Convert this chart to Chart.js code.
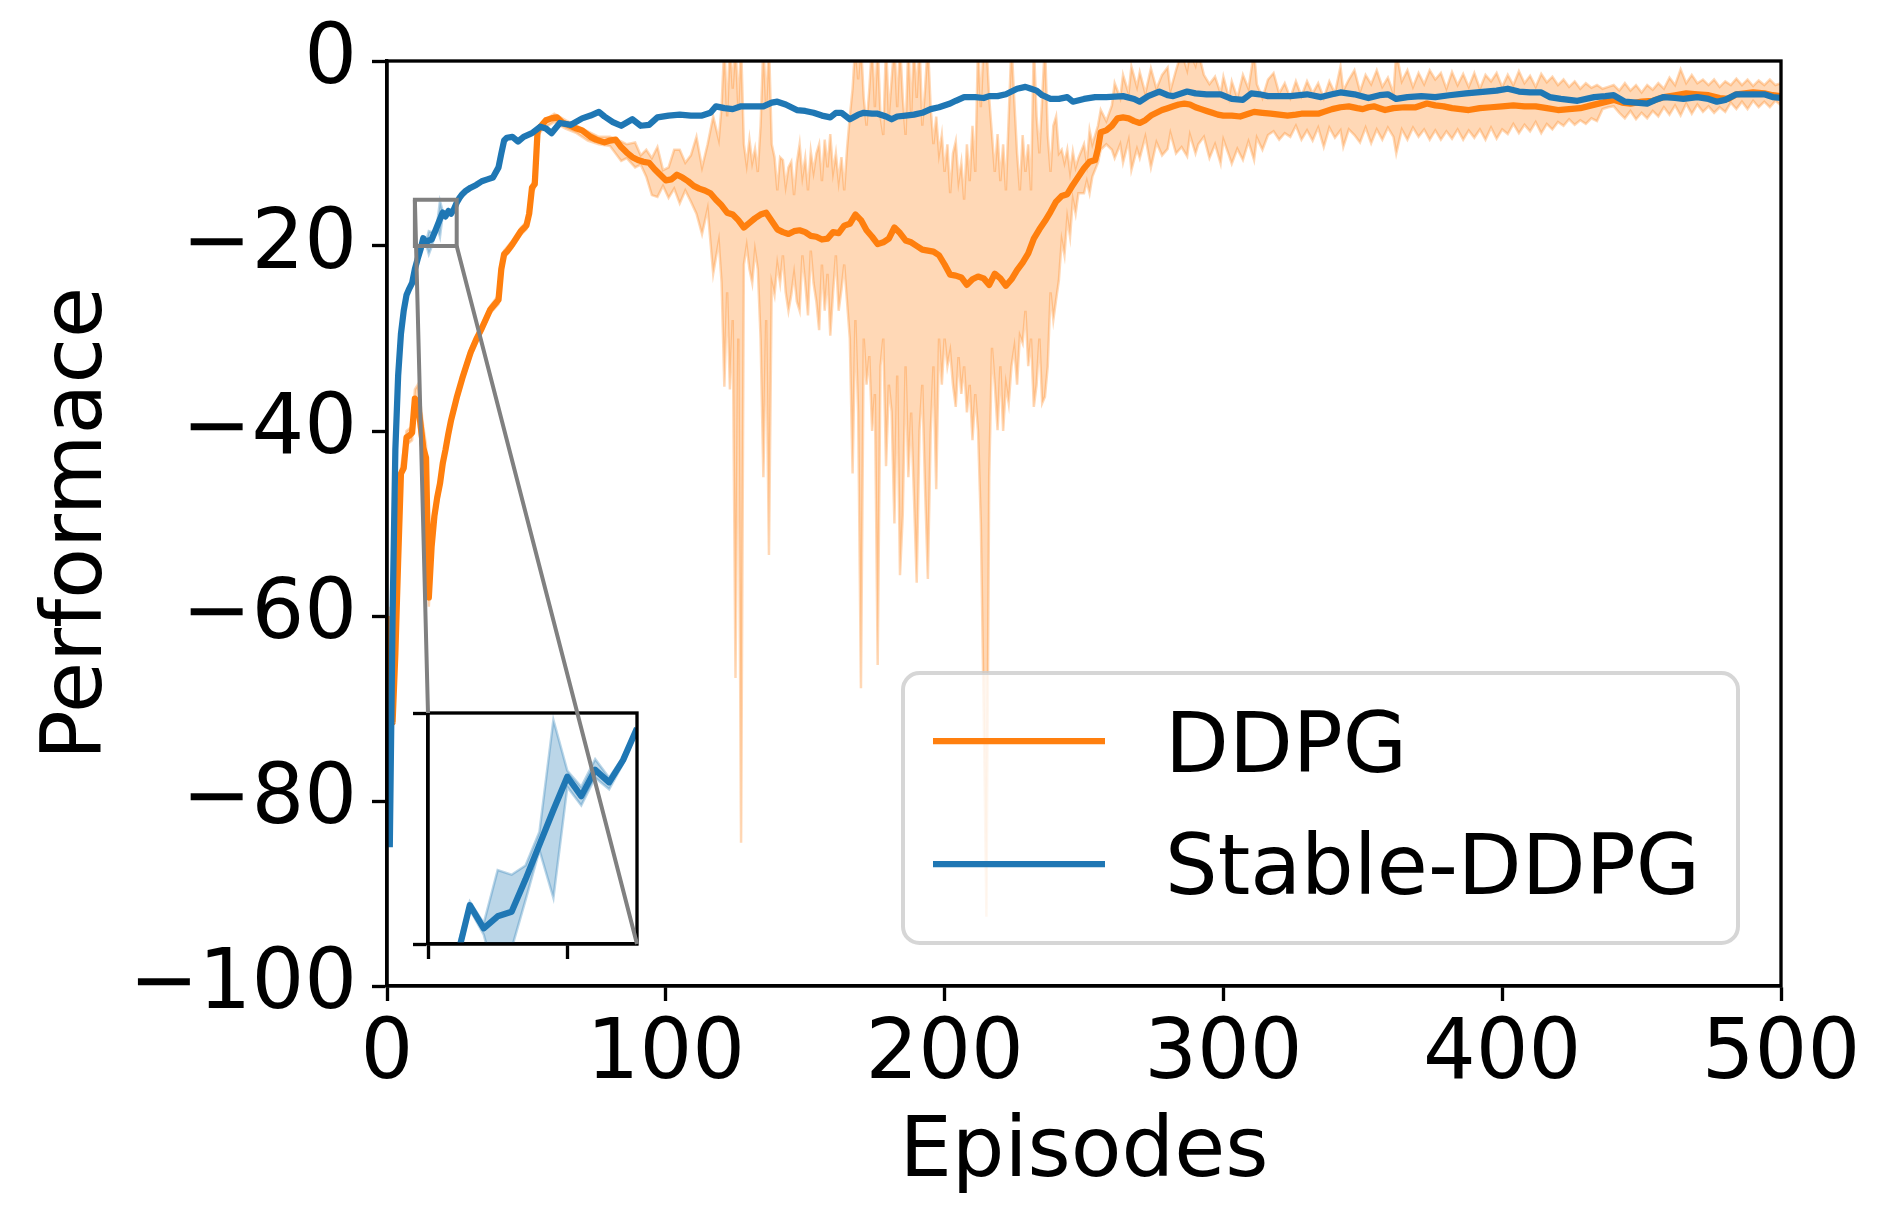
<!DOCTYPE html>
<html><head><meta charset="utf-8">
<script src="https://cdn.jsdelivr.net/npm/chart.js@4.4.1/dist/chart.umd.min.js"></script>
<style>
html,body{margin:0;padding:0;background:#fff;}
#wrap{position:relative;width:1890px;height:1223px;overflow:hidden;background:#fff;}
canvas{position:absolute;}
</style></head><body>
<div id="wrap">
<canvas id="main" width="1890" height="1223" style="left:0;top:0;width:1890px;height:1223px"></canvas>
<canvas id="inset" width="320" height="850" style="left:380px;top:150px;width:320px;height:850px"></canvas>
</div>
<script>
// ---------------- data ----------------
const seriesNames = ['DDPG', 'Stable-DDPG'];
const xTicks = [0, 100, 200, 300, 400, 500];
const yTicks = [-100, -80, -60, -40, -20, 0];
const insetXTicks = [10, 20];
const insetYTicks = [-20, -15];
const zoomRange = {xMin: 10, xMax: 25, yMin: -20, yMax: -15};

// DDPG mean curve [episode, value]
const ddpgMean = [[1,-60],[2,-71.5],[3,-64],[4,-54],[5,-44.6],[6,-44],[7,-40.7],[8,-40.5],[9,-40.2],[10,-36.5],[11,-36.9],[12,-39.2],[13,-41.8],[14,-42.9],[15,-58],[16,-52.5],[17,-49.2],[18,-47.2],[19,-45.7],[20,-43.5],[21,-42],[22,-40.3],[23,-38.8],[25,-36.4],[27,-34.3],[30,-31.5],[32,-30.1],[34,-28.9],[37,-26.9],[40,-25.8],[41,-22.5],[42,-20.9],[43,-20.6],[45,-19.8],[48,-18.4],[50,-17.8],[51,-16.5],[52,-13.7],[53,-13.3],[54,-7.6],[55,-7.1],[57,-6.4],[59,-6.2],[61,-6.1],[63,-6.7],[65,-6.9],[68,-7.3],[70,-7.5],[73,-8.2],[75,-8.5],[78,-8.8],[80,-8.6],[82,-8.5],[84,-9.3],[86,-9.9],[88,-10.4],[90,-10.7],[92,-10.9],[94,-11.0],[96,-11.7],[98,-12.3],[100,-12.9],[102,-12.8],[104,-12.3],[106,-12.6],[108,-13.0],[110,-13.5],[112,-13.8],[114,-14.0],[116,-14.3],[118,-15.0],[120,-15.6],[122,-16.4],[124,-16.6],[126,-17.2],[128,-18.0],[130,-17.5],[132,-17.0],[134,-16.6],[136,-16.4],[138,-17.3],[140,-18.2],[142,-18.5],[144,-18.7],[146,-18.4],[148,-18.3],[150,-18.5],[152,-18.9],[154,-19.0],[156,-19.3],[158,-19.2],[160,-18.5],[162,-18.6],[164,-17.8],[166,-17.6],[168,-16.6],[170,-17.2],[172,-18.3],[174,-19.0],[176,-19.8],[178,-19.6],[180,-19.2],[182,-18.0],[184,-18.6],[186,-19.4],[188,-19.6],[190,-20.0],[192,-20.4],[194,-20.5],[196,-20.6],[198,-21.0],[200,-22.0],[202,-23.1],[204,-23.2],[206,-23.4],[208,-24.2],[210,-23.6],[212,-23.3],[214,-23.5],[216,-24.2],[218,-23.0],[220,-23.5],[222,-24.3],[224,-23.6],[226,-22.6],[228,-21.8],[230,-20.8],[232,-19.2],[234,-18.2],[236,-17.3],[238,-16.3],[240,-15.2],[242,-14.6],[244,-14.4],[246,-13.4],[248,-12.5],[250,-11.6],[252,-10.9],[254,-10.7],[255,-9.5],[256,-7.7],[258,-7.5],[260,-7.0],[262,-6.2],[264,-6.1],[266,-6.2],[268,-6.5],[270,-6.7],[272,-6.4],[274,-5.9],[276,-5.6],[278,-5.3],[280,-5.1],[282,-4.9],[284,-4.7],[286,-4.6],[288,-4.7],[290,-5.0],[292,-5.2],[294,-5.4],[296,-5.6],[298,-5.8],[300,-5.9],[303,-5.9],[306,-6.0],[309,-5.7],[311,-5.5],[314,-5.6],[317,-5.7],[320,-5.8],[323,-5.9],[326,-5.8],[328,-5.7],[331,-5.7],[334,-5.7],[336,-5.5],[339,-5.2],[342,-5.0],[345,-4.9],[348,-5.1],[350,-5.2],[352,-5.0],[354,-4.9],[356,-5.1],[358,-5.3],[361,-5.1],[365,-5.0],[369,-5.0],[373,-4.6],[376,-4.8],[379,-4.9],[382,-5.1],[385,-5.2],[388,-5.3],[392,-5.1],[396,-5.0],[400,-4.9],[404,-4.8],[408,-4.9],[412,-4.9],[416,-5.1],[420,-5.3],[424,-5.2],[428,-5.1],[432,-4.8],[436,-4.5],[440,-4.2],[443,-4.5],[446,-4.6],[450,-4.4],[454,-4.3],[458,-3.9],[462,-3.7],[466,-3.5],[470,-3.6],[474,-3.7],[478,-4.0],[481,-4.1],[484,-3.6],[487,-3.5],[490,-3.4],[494,-3.5],[497,-3.7],[500,-3.8]];

// DDPG spread band [episode, upper, lower]
const ddpgBand = [[1,-59,-61],[2,-70.5,-72.5],[3,-63,-65],[4,-53,-55],[5,-44,-45.5],[7,-40,-41.5],[9,-39.5,-41],[10,-35.5,-37.5],[11,-35,-38.5],[12,-37,-41],[13,-39.5,-43],[14,-41.5,-44],[15,-57,-59],[16,-51,-53],[17,-48.5,-50],[19,-45,-46.5],[21,-41.5,-42.5],[23,-38.3,-39.3],[27,-33.8,-34.8],[30,-31,-32],[34,-28.5,-29.3],[37,-26.5,-27.3],[40,-25.3,-26.3],[41,-22,-23],[42,-20.5,-21.3],[45,-19.4,-20.2],[48,-18,-18.8],[50,-17.4,-18.2],[52,-13.3,-14.2],[53,-12.8,-13.8],[54,-7.2,-8.1],[56,-6.5,-7.3],[60,-5.7,-6.6],[64,-6.4,-7.3],[68,-7,-7.8],[72,-7.6,-8.6],[76,-8.2,-9.0],[80,-8.2,-9.2],[84,-8.7,-10.8],[86,-9.0,-10.5],[89,-8.8,-11.5],[91,-10.2,-11.2],[93,-9.6,-12.5],[95,-10.5,-14.5],[97,-9.3,-14.7],[99,-11.8,-13.5],[101,-11.5,-14.8],[103,-9.6,-13.8],[105,-9.6,-15.4],[107,-11.0,-14.0],[109,-10.2,-15.2],[111,-8.2,-16.5],[113,-11.5,-18.7],[115,-9.0,-16.0],[117,-6.0,-23.0],[119,-8.5,-19.5],[120,-5.0,-23.9],[121,2,-35.2],[122,-6,-25],[123,2,-35.5],[124,-3,-28],[125,2,-66.7],[126,-5,-30],[127,2,-84.5],[128,-9,-22],[129,-11.2,-20],[130,-8.5,-22.5],[131,-11,-24],[132,-9.5,-20.5],[133,-12,-22.5],[134,-7,-30],[135,2,-45],[136,-5,-28],[137,2,-53.4],[138,-9,-24],[139,-10.4,-25.3],[140,-14,-22],[141,-10.4,-24],[142,-10.7,-21],[143,-13.5,-25],[144,-11.5,-27],[145,-10.9,-25.3],[146,-14.5,-23],[147,-11,-26],[148,-9.0,-27],[149,-12.5,-21],[150,-10.5,-24],[151,-14,-27.5],[152,-9.8,-20.5],[153,-12,-24],[154,-10,-26],[155,-9.0,-29.1],[156,-13,-22],[157,-8.5,-27],[158,-11.5,-23],[159,-7.9,-29.7],[160,-12,-25],[161,-10,-21],[162,-13,-27],[163,-10.4,-24.7],[164,-14,-22],[165,-9.5,-26],[166,-6,-30],[167,-3,-44.6],[168,2,-28],[169,-2,-38],[170,2,-67.8],[171,-4,-30],[172,-7,-35],[173,-3,-31.9],[174,2,-40],[175,-5,-36],[176,2,-65.3],[177,-6,-33],[178,-8,-30],[179,2,-43.8],[180,-6,-35],[181,-2,-37.9],[182,2,-50],[183,-5,-34],[184,2,-55.6],[185,-4,-49],[186,-8,-33],[187,2,-45],[188,-6,-38],[189,2,-47],[190,-4,-56.4],[191,2,-40],[192,-7,-35],[193,-3,-46.3],[194,2,-56],[195,-5,-40.2],[196,-9,-33],[197,-6,-46.3],[198,-10,-30],[199,-8,-35],[200,-12,-30],[201,-9,-33],[202,-14.3,-31.4],[203,-10,-35],[204,-8.7,-37.4],[205,-13,-32],[206,-11,-36],[207,-15,-33],[208,-9,-38],[209,-13,-35],[210,-7,-41],[211,-12,-36],[212,2,-40],[213,-5,-50],[214,2,-70],[215,2,-92.5],[216,-4,-45],[217,-8,-31],[218,-12,-35],[219,-7.9,-39.9],[220,-13,-33],[221,-9,-40],[222,-14,-35],[223,-6,-37],[224,2,-33],[225,-4.3,-31],[226,-10,-35],[227,-14,-29.7],[228,-8,-30.5],[229,-12,-27],[230,-9,-33],[231,-14,-30],[232,2,-37.4],[233,-6,-35],[234,-10,-30],[235,-4,-37],[236,2,-36.3],[237,-8,-33],[238,-12,-25],[239,-7,-28],[240,-6,-25.8],[241,-10,-23.7],[242,-9.6,-19.4],[243,-11,-21],[244,-9.6,-17],[245,-12,-19],[246,-9.8,-15],[247,-11.5,-16.5],[248,-10.5,-14.3],[250,-9,-14.3],[251,-11,-13],[252,-7.5,-14.3],[253,-9,-12.5],[255,-7,-11],[256,-5.3,-9.6],[258,-6.5,-9],[260,-4.8,-9.6],[261,-2.4,-10.5],[263,-4,-9],[264,-1.5,-11],[266,-3.5,-8.6],[267,-0.6,-11.8],[269,-2.8,-9.5],[270,-1.2,-10.5],[272,-3.5,-8.2],[274,-0.8,-11.5],[276,-3,-8.8],[278,-1.5,-10.2],[280,-0.7,-9.5],[281,-3.2,-7.8],[283,-1,-10],[285,1,-9.3],[287,-1,-10.3],[288,1,-8],[290,-0.5,-10],[291,1,-9.0],[293,-1.5,-8.2],[295,-2.5,-10.5],[297,-1.7,-9],[299,-3.5,-11.1],[300,-1.7,-8.5],[302,-4,-10.2],[303,-2.2,-11.1],[305,-4,-9.5],[307,-1.5,-10.7],[309,-3,-8.7],[311,1,-10.7],[312,-2.5,-8.3],[314,-4,-9.6],[316,-2,-8],[318,-1.3,-7.6],[320,-3.5,-8.5],[322,-2.4,-7.8],[324,-4,-8.2],[326,-2.2,-7],[328,-3.8,-8.5],[330,-2.2,-7.5],[332,-3.5,-8.6],[334,-2.4,-7.2],[336,-4,-9.3],[338,-2.2,-7.2],[340,-3.5,-8.3],[342,-0.6,-7.5],[343,-3.2,-9.3],[345,-2,-7.4],[347,-1,-8.0],[349,-3.3,-8.8],[351,-1.5,-7.2],[353,-2.5,-8.9],[355,-1,-7.4],[357,-2.8,-8.5],[359,-1.8,-7.2],[361,-3.5,-8.2],[362,1,-10],[364,-2.2,-7.4],[366,-1,-8.5],[368,-2.8,-7.2],[370,-1.3,-8.2],[372,-2.5,-7.4],[374,-1,-8.5],[376,-2,-7.5],[378,-1.3,-8.5],[380,-3,-7.6],[382,-1.2,-8.4],[384,-2.6,-7.4],[386,-1.4,-8.5],[388,-2.8,-7.5],[390,-1.3,-8.3],[392,-3,-7.4],[394,-1.5,-8.5],[396,-2.2,-7.2],[398,-1.3,-8.4],[400,-2.8,-7.4],[402,-1.5,-7.9],[404,-2.6,-6.8],[406,-1.1,-7.8],[408,-2.4,-6.9],[410,-1.6,-7.6],[412,-2.8,-6.6],[414,-1.4,-7.8],[416,-2.3,-6.8],[418,-1.7,-7.4],[420,-2.6,-6.6],[422,-2.0,-7.0],[424,-2.8,-6.3],[426,-2.2,-6.9],[428,-3.0,-6.4],[430,-2.4,-6.8],[432,-2.9,-6.2],[434,-2.6,-6.5],[436,-3.0,-5.2],[438,-2.8,-5.0],[440,-2.6,-4.9],[442,-3.2,-5.6],[444,-2.4,-6.2],[446,-3.2,-5.4],[448,-2.6,-6.3],[450,-3.4,-5.6],[452,-2.6,-6.2],[454,-3.1,-5.4],[456,-2.4,-6.0],[458,-3.0,-5.0],[460,-1.8,-5.8],[462,-2.6,-4.8],[464,-0.9,-5.9],[466,-2.4,-4.6],[468,-1.5,-5.7],[470,-2.4,-4.7],[472,-2.0,-5.5],[474,-2.6,-4.9],[476,-2.0,-5.6],[478,-2.8,-5.0],[480,-2.2,-5.5],[482,-2.6,-4.5],[484,-1.9,-5.2],[486,-2.6,-4.4],[488,-2.0,-5.2],[490,-2.7,-4.3],[492,-2.1,-5.0],[494,-2.6,-4.4],[496,-2.0,-5.0],[498,-2.6,-4.3],[500,-2.4,-4.8]];

// Stable-DDPG mean curve [episode, value]
const stableMean = [[1,-85],[2,-60],[3,-42],[4,-34],[5,-29.5],[6,-27],[7,-25.3],[8,-24.6],[9,-24.0],[10,-22.5],[11,-21.4],[12,-20.4],[13,-19.16],[14,-19.66],[15,-19.4],[16,-19.3],[17,-18.6],[18,-17.85],[19,-17.1],[20,-16.38],[21,-16.8],[22,-16.23],[23,-16.5],[24,-16.02],[25,-15.33],[26,-14.8],[27,-14.4],[28,-14.1],[30,-13.7],[32,-13.4],[34,-13.0],[36,-12.8],[38,-12.6],[40,-11.5],[41,-10.0],[42,-8.6],[43,-8.3],[45,-8.2],[47,-8.7],[49,-8.2],[52,-7.8],[55,-7.1],[57,-7.3],[59,-7.8],[62,-6.7],[66,-6.9],[70,-6.2],[73,-5.9],[76,-5.5],[78,-6.0],[81,-6.6],[84,-7.0],[88,-6.3],[91,-7.0],[94,-6.9],[97,-6.1],[101,-5.9],[105,-5.8],[109,-5.9],[113,-5.9],[116,-5.6],[118,-4.9],[121,-5.1],[124,-5.2],[127,-4.9],[131,-4.9],[135,-4.9],[138,-4.5],[140,-4.4],[143,-4.7],[147,-5.3],[150,-5.4],[153,-5.6],[156,-5.9],[159,-6.1],[161,-5.6],[163,-5.6],[166,-6.3],[169,-5.8],[171,-5.6],[174,-5.7],[176,-5.7],[179,-6.0],[181,-6.3],[183,-6.0],[186,-5.9],[189,-5.8],[192,-5.6],[195,-5.2],[198,-5.0],[202,-4.6],[204,-4.3],[207,-3.9],[211,-3.9],[214,-4.0],[216,-3.8],[219,-3.8],[222,-3.6],[226,-3.0],[229,-2.8],[231,-3.0],[233,-3.2],[235,-3.7],[238,-4.1],[241,-4.1],[244,-3.9],[246,-4.4],[250,-4.1],[254,-3.9],[258,-3.9],[264,-3.8],[268,-4.1],[270,-4.4],[273,-3.8],[277,-3.3],[280,-3.7],[282,-3.8],[287,-3.3],[290,-3.5],[294,-3.6],[299,-3.6],[303,-4.1],[307,-4.2],[310,-3.5],[313,-3.6],[316,-3.8],[320,-3.8],[324,-3.8],[330,-3.6],[335,-3.9],[339,-3.6],[342,-3.4],[347,-3.6],[352,-4.0],[356,-3.7],[359,-3.6],[362,-4.1],[366,-3.9],[371,-3.8],[376,-3.9],[381,-3.7],[387,-3.5],[394,-3.3],[398,-3.2],[402,-3.0],[406,-3.3],[410,-3.4],[414,-3.4],[417,-3.9],[421,-4.1],[427,-4.3],[433,-3.9],[437,-3.8],[440,-3.7],[444,-4.4],[448,-4.5],[452,-4.6],[455,-4.2],[458,-3.9],[462,-4.0],[465,-4.1],[470,-3.9],[474,-4.1],[477,-4.4],[480,-4.2],[484,-3.6],[488,-3.6],[494,-3.6],[497,-3.9],[500,-4.0]];

// Stable-DDPG spread band [episode, upper, lower]
const stableBand = [[12,-20.2,-20.6],[13,-19.08,-19.25],[14,-19.55,-19.8],[15,-18.4,-20.9],[16,-18.5,-20.1],[17,-18.3,-19.05],[18,-17.57,-17.97],[19,-15.15,-19.0],[20,-16.25,-16.6],[21,-16.6,-17.0],[22,-16.0,-16.4],[23,-16.4,-16.65],[24,-15.95,-16.1],[25,-15.28,-15.4]];

// ---------------- styles ----------------
const FONT = 'DejaVu Sans';
const FS = 83;
const ORANGE = '#ff7f0e', BLUE = '#1f77b4';
const ORANGE_RGB = '255,127,14', BLUE_RGB = '31,119,180';
const LW = 6.25, AXW = 3.33, TICKL = 15;
Chart.defaults.font.family = FONT;
Chart.defaults.color = '#000';

const fmt = v => (v < 0 ? '\u2212' + Math.abs(v) : String(v));
const linePts = arr => arr.map(p => ({x: p[0], y: p[1]}));
const hiPts = arr => arr.map(p => ({x: p[0], y: p[1]}));
const loPts = arr => arr.map(p => ({x: p[0], y: p[2]}));

const lineDs = (label, data, color) => ({label, data, borderColor: color, backgroundColor: color, borderWidth: LW, pointRadius: 0, fill: false, tension: 0, clip: 0, borderJoinStyle: 'round'});
const bandDs = (label, data, rgb, fill) => ({label, data, borderColor: `rgba(${rgb},0.3)`, backgroundColor: `rgba(${rgb},0.3)`, borderWidth: 2.5, pointRadius: 0, fill, tension: 0, clip: 0});

const setTicks = list => axis => { axis.ticks = list.map(v => ({value: v})); };

// ---------------- main chart ----------------
const mainPlugin = {
  id: 'mplDecor',
  afterDraw(chart) {
    const {ctx, chartArea: a, scales} = chart;
    ctx.save();
    // spines
    ctx.strokeStyle = '#000'; ctx.lineWidth = AXW;
    ctx.strokeRect(a.left, a.top, a.right - a.left, a.bottom - a.top);
    // zoom indicator rectangle
    const rx0 = scales.x.getPixelForValue(zoomRange.xMin), rx1 = scales.x.getPixelForValue(zoomRange.xMax);
    const ry0 = scales.y.getPixelForValue(zoomRange.yMax), ry1 = scales.y.getPixelForValue(zoomRange.yMin);
    ctx.strokeStyle = '#808080'; ctx.lineWidth = 4;
    ctx.strokeRect(rx0, ry0, rx1 - rx0, ry1 - ry0);
    // legend
    const L = a.left + 516, T = a.top + 612, W = 835, H = 270;
    ctx.beginPath();
    ctx.roundRect(L, T, W, H, 16.6);
    ctx.fillStyle = 'rgba(255,255,255,0.8)'; ctx.fill();
    ctx.lineWidth = 4; ctx.strokeStyle = 'rgba(204,204,204,0.8)'; ctx.stroke();
    const items = [[seriesNames[0], ORANGE, 680, 711], [seriesNames[1], BLUE, 803, 833]];
    ctx.font = `${FS}px "${FONT}"`;
    ctx.textBaseline = 'alphabetic'; ctx.textAlign = 'left'; ctx.fillStyle = '#000';
    items.forEach(([txt, col, ly, by]) => {
      ctx.beginPath();
      ctx.strokeStyle = col; ctx.lineWidth = LW; ctx.lineCap = 'butt';
      ctx.moveTo(a.left + 546, a.top + ly); ctx.lineTo(a.left + 718, a.top + ly);
      ctx.stroke();
      ctx.fillStyle = '#000';
      ctx.fillText(txt, a.left + 778, a.top + by);
    });
    ctx.restore();
  }
};

const axisCommon = {
  grid: {drawOnChartArea: false, drawTicks: true, tickLength: TICKL, tickWidth: AXW, color: '#000', tickColor: '#000'},
  border: {display: true, color: '#000', width: AXW}
};

const mainChart = new Chart(document.getElementById('main'), {
  type: 'line',
  data: {datasets: [
    lineDs(seriesNames[1], linePts(stableMean), BLUE),
    bandDs('stable-hi', hiPts(stableBand), BLUE_RGB, false),
    bandDs('stable-lo', loPts(stableBand), BLUE_RGB, '-1'),
    lineDs(seriesNames[0], linePts(ddpgMean), ORANGE),
    bandDs('ddpg-hi', hiPts(ddpgBand), ORANGE_RGB, false),
    bandDs('ddpg-lo', loPts(ddpgBand), ORANGE_RGB, '-1')
  ]},
  options: {
    responsive: false, devicePixelRatio: 1, animation: false,
    layout: {padding: {left: 0, top: 61, right: 109, bottom: 0}},
    plugins: {legend: {display: false}, tooltip: {enabled: false}},
    scales: {
      x: {type: 'linear', min: 0, max: 500, afterBuildTicks: setTicks(xTicks),
        ticks: {font: {family: FONT, size: FS}, color: '#000', padding: 6, maxRotation: 0, autoSkip: false, callback: fmt},
        ...axisCommon,
        title: {display: true, text: 'Episodes', font: {family: FONT, size: FS}, color: '#000', padding: {top: 0, bottom: 19}},
        afterFit: s => { s.height = 237; s.paddingLeft = 0; s.paddingRight = 0; }
      },
      y: {type: 'linear', min: -100, max: 0, afterBuildTicks: setTicks(yTicks),
        ticks: {font: {family: FONT, size: FS}, color: '#000', padding: 15, autoSkip: false, callback: fmt},
        ...axisCommon,
        title: {display: true, text: 'Performace', font: {family: FONT, size: FS}, color: '#000', padding: {top: 30, bottom: 0}},
        afterFit: s => { s.width = 387; s.paddingTop = 0; s.paddingBottom = 0; }
      }
    }
  },
  plugins: [mainPlugin]
});

// ---------------- inset chart ----------------
const insetCanvas = document.getElementById('inset');
const insetPlugin = {
  id: 'insetDecor',
  beforeDraw(chart) {
    const {ctx, chartArea: a} = chart;
    ctx.save(); ctx.fillStyle = '#fff';
    ctx.fillRect(a.left, a.top, a.right - a.left, a.bottom - a.top);
    ctx.restore();
  },
  afterDraw(chart) {
    const {ctx, chartArea: a} = chart;
    const ox = insetCanvas.offsetLeft, oy = insetCanvas.offsetTop;
    const ms = mainChart.scales;
    ctx.save();
    ctx.strokeStyle = '#000'; ctx.lineWidth = AXW;
    ctx.strokeRect(a.left, a.top, a.right - a.left, a.bottom - a.top);
    const rx0 = ms.x.getPixelForValue(zoomRange.xMin) - ox, rx1 = ms.x.getPixelForValue(zoomRange.xMax) - ox;
    const ry0 = ms.y.getPixelForValue(zoomRange.yMax) - oy, ry1 = ms.y.getPixelForValue(zoomRange.yMin) - oy;
    ctx.strokeStyle = '#808080'; ctx.lineWidth = 4;
    ctx.beginPath();
    ctx.moveTo(rx0, ry0); ctx.lineTo(a.left, a.top);
    ctx.moveTo(rx1, ry1); ctx.lineTo(a.right, a.bottom);
    ctx.stroke();
    ctx.restore();
  }
};

new Chart(insetCanvas, {
  type: 'line',
  data: {datasets: [
    lineDs(seriesNames[1], linePts(stableMean), BLUE),
    bandDs('stable-hi', hiPts(stableBand), BLUE_RGB, false),
    bandDs('stable-lo', loPts(stableBand), BLUE_RGB, '-1')
  ]},
  options: {
    responsive: false, devicePixelRatio: 1, animation: false,
    layout: {padding: {left: 0, top: 563, right: 63, bottom: 0}},
    plugins: {legend: {display: false}, tooltip: {enabled: false}},
    scales: {
      x: {type: 'linear', min: zoomRange.xMin, max: zoomRange.xMax, afterBuildTicks: setTicks(insetXTicks),
        ticks: {display: false}, ...axisCommon,
        afterFit: s => { s.height = 56; s.paddingLeft = 0; s.paddingRight = 0; }
      },
      y: {type: 'linear', min: zoomRange.yMin, max: zoomRange.yMax, afterBuildTicks: setTicks(insetYTicks),
        ticks: {display: false}, ...axisCommon,
        afterFit: s => { s.width = 48; s.paddingTop = 0; s.paddingBottom = 0; }
      }
    }
  },
  plugins: [insetPlugin]
});
</script>
</body></html>
